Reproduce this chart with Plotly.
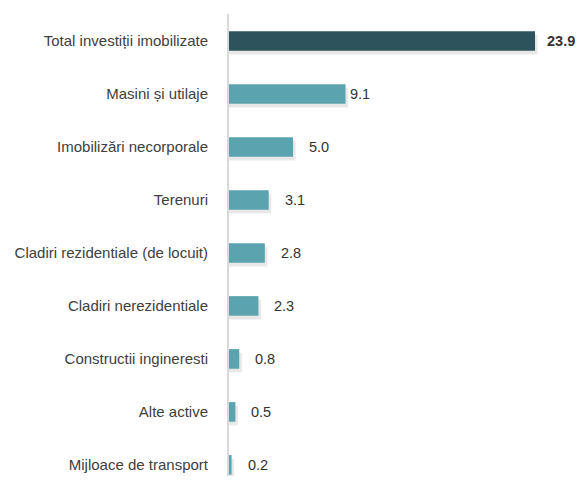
import plotly.graph_objects as go

categories = ["Total investiții imobilizate", "Masini și utilaje", "Imobilizări necorporale",
              "Terenuri", "Cladiri rezidentiale (de locuit)", "Cladiri nerezidentiale",
              "Constructii ingineresti", "Alte active", "Mijloace de transport"]
values = [23.9, 9.1, 5.0, 3.1, 2.8, 2.3, 0.8, 0.5, 0.2]
value_labels = ["23.9", "9.1", "5.0", "3.1", "2.8", "2.3", "0.8", "0.5", "0.2"]

DARK = "#2d545c"
LIGHT = "#5ba4af"
colors = [DARK] + [LIGHT] * (len(values) - 1)
FONT = "Liberation Sans"

fig = go.Figure()
# soft shadow
fig.add_trace(go.Bar(
    y=categories, x=[v + 0.2 for v in values], orientation="h",
    width=0.37, offset=-0.185 + 0.07,
    marker=dict(color="rgba(0,0,0,0.09)", line=dict(width=0)),
    hoverinfo="skip", showlegend=False))
fig.add_trace(go.Bar(
    y=categories, x=values, orientation="h",
    width=0.37, offset=-0.185,
    marker=dict(color=colors, line=dict(width=0)),
    showlegend=False))

for i, (c, v, t) in enumerate(zip(categories, values, value_labels)):
    fig.add_annotation(
        x=v, y=c, xref="x", yref="y", text=("<b>%s</b>" % t) if i == 0 else t,
        showarrow=False, xanchor="left", yanchor="middle",
        xshift=2 if i == 1 else (10 if i == 0 else 14),
        font=dict(family=FONT, size=14.5, color="#333333"))

fig.update_layout(
    width=568, height=468,
    margin=dict(l=221, r=0, t=6, b=0),
    paper_bgcolor="white", plot_bgcolor="white",
    barmode="overlay",
    font=dict(family=FONT, size=15, color="#404040"),
    xaxis=dict(range=[0, 27.1], visible=False, fixedrange=True, automargin=False),
    yaxis=dict(type="category", categoryorder="array", categoryarray=categories,
               range=[8.21, -0.51], showgrid=False, showline=True, automargin=False,
               linecolor="#d9d9d9", linewidth=2, ticks="", ticklabelstandoff=16,
               tickfont=dict(family=FONT, size=15, color="#404040")),
)

fig.write_html("out.html")
